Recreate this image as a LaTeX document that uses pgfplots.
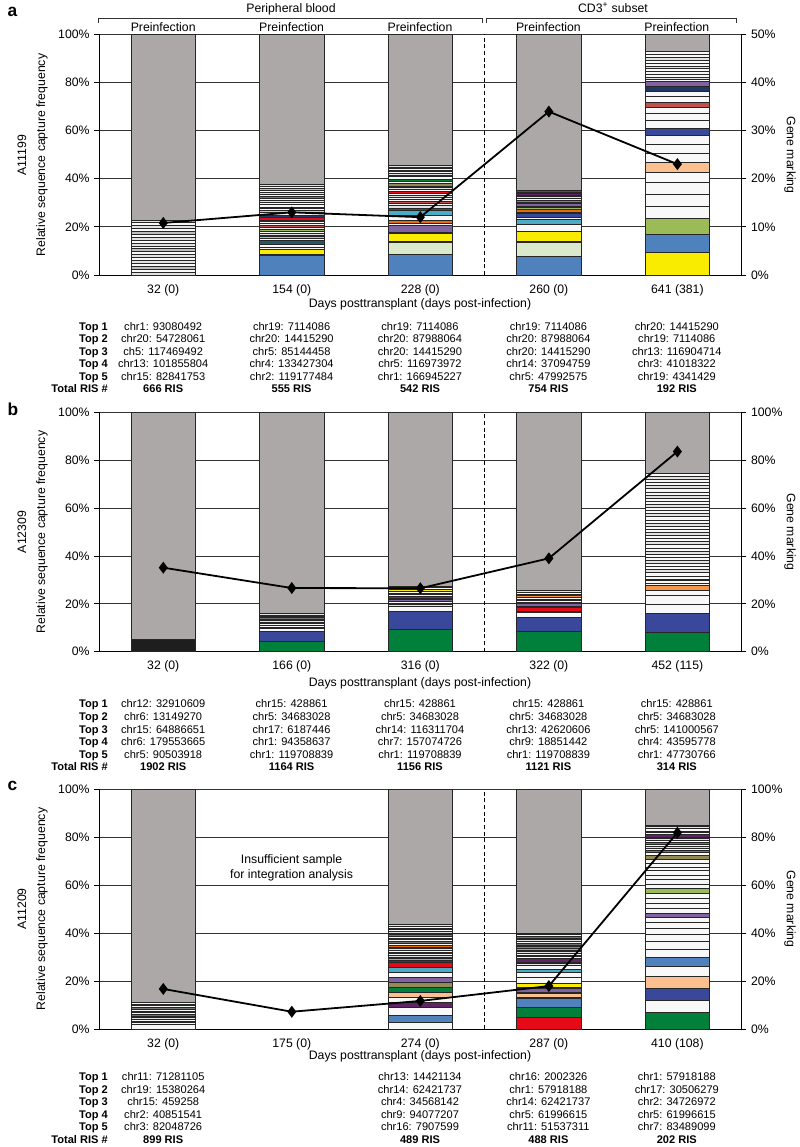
\documentclass[border=0pt]{standalone}
\usepackage{pgfplots}
\pgfplotsset{compat=1.18}
\usepackage{fontspec}
\setmainfont{Liberation Sans}
\newcommand\fontTick{\fontsize{9.2}{10.5}\selectfont}
\newcommand\fontTab{\fontsize{8.3}{9.5}\selectfont}

\definecolor{cgray}{RGB}{172,168,168}
\definecolor{cblue}{RGB}{79,129,189}
\definecolor{cyel}{RGB}{250,236,0}
\definecolor{clgreen}{RGB}{218,232,204}
\definecolor{cpurp}{RGB}{128,100,162}
\definecolor{corange}{RGB}{228,108,10}
\definecolor{clorange}{RGB}{247,150,70}
\definecolor{clblue}{RGB}{75,172,198}
\definecolor{cteal}{RGB}{33,89,104}
\definecolor{cred}{RGB}{230,10,25}
\definecolor{cpink}{RGB}{192,80,77}
\definecolor{colive}{RGB}{155,187,89}
\definecolor{ctan}{RGB}{148,138,84}
\definecolor{cgreen}{RGB}{0,128,58}
\definecolor{cnavy}{RGB}{31,56,100}
\definecolor{cdblue}{RGB}{58,72,155}
\definecolor{cpeach}{RGB}{250,192,144}
\definecolor{cdpurp}{RGB}{96,37,100}
\definecolor{cblack}{RGB}{30,30,30}
\definecolor{cw}{RGB}{248,248,248}
\definecolor{cs}{RGB}{226,226,226}
\definecolor{cm}{RGB}{190,190,190}
\definecolor{cdk}{RGB}{115,115,115}

% stacked bar: segments given as top/colour, from the top down
\newcommand\stk[2]{\foreach \tp/\cl in {#2}{\edef\tmp{\noexpand\addplot[fill=\cl, draw=black!85, line width=0.4pt] coordinates {(#1,\tp)};}\tmp}}

\pgfplotsset{
  baseax/.style={scale only axis, width=482pt, anchor=south west, xmin=-0.5, xmax=4.5, ymin=0,
    axis line style={black, line width=0.7pt}, tick align=outside, major tick length=3.5pt,
    tick label style={font=\fontTick}, /pgf/number format/assume math mode=true},
  barax/.style={baseax, ymax=100, axis x line*=bottom, axis y line*=left,
    ybar, bar width=0.5, bar shift=0pt,
    xtick={0,...,4}, xtick style={draw=none}, ytick={0,20,...,100},
    yticklabels={0\%,20\%,40\%,60\%,80\%,100\%}, ytick style={black, line width=0.6pt},
    ymajorgrids, major grid style={black!80, line width=0.6pt}},
  lineax/.style={baseax, axis y line*=right, axis x line=none, ytick style={black, line width=0.6pt}},
  gm/.style={black, line width=1.35pt, mark=diamond*, mark size=3.4pt, mark options={solid, fill=black}},
  dsh/.style={black, line width=0.6pt, dash pattern=on 3pt off 2pt},
}

\newcommand\trow[7]{%
  \node[font=\fontTab\bfseries, anchor=base east] at (112.5,#1) {#2};
  \node[font=\fontTab, anchor=base] at (163.2,#1) {#3};
  \node[font=\fontTab, anchor=base] at (291.6,#1) {#4};
  \node[font=\fontTab, anchor=base] at (420,#1) {#5};
  \node[font=\fontTab, anchor=base] at (548.4,#1) {#6};
  \node[font=\fontTab, anchor=base] at (676.8,#1) {#7};}

\begin{document}
\begin{tikzpicture}
\path[use as bounding box] (0,0) rectangle (600pt,-860.25pt);

%================ panel a
\begin{axis}[barax, at={(74.25pt,-206.25pt)}, height=180.75pt,
  xticklabels={32 (0),154 (0),228 (0),260 (0),641 (381)}]
\stk{0}{100/cgray, 22.9/cs, 21.7/cw, 20.5/cs, 19.3/cw, 18.1/cm, 16.9/cw, 15.7/cs, 14.5/cw, 13.3/cs, 12.1/cw, 10.9/cm, 9.7/cw, 8.5/cs, 7.3/cw, 6.1/cs, 4.9/cw, 3.7/cm, 2.5/cw, 1.3/cs}
\stk{1}{100/cgray, 37.6/cs, 36.8/cw, 36/cm, 35.2/cw, 34.4/cs, 33.6/cw, 32.8/cdk, 31.9/cw, 31/cs, 30.1/cw, 29.2/cw, 28.3/cs, 27.5/cw, 27/cpeach, 25.9/cw, 24.9/cnavy, 23.9/cred, 22.7/cw, 22.1/cw, 21.3/cw, 20.7/cpink, 19.8/cw, 19.1/colive, 18/cw, 17.3/cs, 16.6/cw, 16/cm, 15.2/cw, 14.5/cteal, 12.9/cw, 11.5/cw, 10.7/cyel, 8.7/cw, 8.2/cblue}
\stk{2}{100/cgray, 45.6/cs, 44.9/cdpurp, 44.3/cw, 43.6/colive, 42.9/cw, 42.2/cs, 41.5/cw, 40.8/cw, 39.9/cgreen, 38.8/cw, 38/ctan, 37/cw, 36.2/cs, 35.5/cw, 34.9/cred, 33.9/cw, 33/cs, 32.2/cw, 31.5/cw, 30.8/cpink, 29.7/cw, 28.9/cs, 27.9/cteal, 26.7/clblue, 24.9/cw, 22.8/corange, 21.4/cw, 20.7/cpurp, 17.7/cw, 17.3/cyel, 14.1/cw, 13.4/clgreen, 8.6/cblue}
\stk{3}{100/cgray, 35.2/cgreen, 34.3/cw, 33.8/cdpurp, 33.1/cw, 32.5/cs, 31.9/cw, 31.2/ctan, 30.2/cw, 29.6/cpurp, 28.6/cw, 28.1/colive, 27.1/corange, 25.9/cw, 25.6/cdblue, 23.8/cw, 23.2/clblue, 21/cw, 18/cyel, 13.8/cw, 13.6/clgreen, 7.6/cblue}
\stk{4}{100/cgray, 92.8/cw, 91.6/cw, 90.4/cs, 89.2/cw, 88/cw, 86.8/cs, 85.6/cw, 84.4/cw, 83.2/cw, 82/cs, 81.2/cw, 80.3/cpurp, 78.3/cnavy, 76.2/cw, 74.1/cw, 71.7/cpink, 69.7/cw, 67.2/cw, 64.1/cw, 60.9/cdblue, 57.9/cw, 54.4/cw, 50.6/cw, 46.7/cpeach, 42.8/cw, 38.4/cw, 33.7/cw, 28.7/cw, 23.5/colive, 16.9/cblue, 9.4/cyel}
\end{axis}
\begin{axis}[lineax, at={(74.25pt,-206.25pt)}, height=180.75pt, ymax=50,
  ytick={0,10,...,50}, yticklabels={0\%,10\%,20\%,30\%,40\%,50\%}]
\addplot[dsh] coordinates {(2.5,0) (2.5,50)};
\addplot[gm] coordinates {(0,10.8) (1,13) (2,12) (3,33.9) (4,23)};
\end{axis}

%================ panel b
\begin{axis}[barax, at={(74.25pt,-488.775pt)}, height=179.55pt,
  xticklabels={32 (0),166 (0),316 (0),322 (0),452 (115)}]
\stk{0}{100/cgray, 5.2/cblack}
\stk{1}{100/cgray, 16/cs, 15.3/cdk, 14.8/cs, 14.2/cdk, 13.7/cw, 13.1/cs, 12.5/cred, 11.8/cw, 11.2/cw, 10.4/cyel, 9.6/cw, 8.5/cdblue, 4.5/cgreen}
\stk{2}{100/cgray, 27.4/cs, 26.8/cw, 26/cyel, 25.2/cw, 24.5/cpink, 23.8/cw, 23.3/cred, 22.4/cw, 21.9/cpurp, 21/cw, 20.4/cw, 19.9/clgreen, 18.8/cw, 17/cdblue, 9.5/cgreen}
\stk{3}{100/cgray, 25.6/cs, 24.8/cw, 24.2/cs, 23.7/clorange, 22.7/cw, 22.1/cs, 21.5/cw, 20.8/cs, 20.2/cpurp, 19.1/cw, 18.4/cred, 17.1/cw, 16.4/cw, 14.5/cdblue, 8.5/cgreen}
\stk{4}{100/cgray, 74.6/cw, 73.3/cs, 72/cw, 70.7/cw, 69.4/cs, 68.1/cw, 66.8/cw, 65.5/cs, 64.2/cw, 62.9/cw, 61.6/cs, 60.3/cw, 59/cw, 57.7/cs, 56.4/cw, 55.1/cw, 53.8/cs, 52.5/cw, 51.2/cw, 49.9/cs, 48.6/cw, 47.3/cw, 46/cs, 44.7/cw, 43.4/cw, 42.1/cs, 40.8/cw, 39.5/cw, 38.2/cs, 36.9/cw, 35.6/cw, 34.3/cs, 33/cw, 31.7/cw, 30.4/cs, 29.9/cw, 28.7/cw, 27.6/clorange, 25.8/cw, 23.7/cw, 19.8/cw, 16/cdblue, 8.1/cgreen}
\end{axis}
\begin{axis}[lineax, at={(74.25pt,-488.775pt)}, height=179.55pt, ymax=100,
  ytick={0,20,...,100}, yticklabels={0\%,20\%,40\%,60\%,80\%,100\%}]
\addplot[dsh] coordinates {(2.5,0) (2.5,100)};
\addplot[gm] coordinates {(0,35.1) (1,26.6) (2,26.5) (3,39) (4,83.6)};
\end{axis}

%================ panel c
\begin{axis}[barax, at={(74.25pt,-771.75pt)}, height=180pt,
  xticklabels={32 (0),175 (0),274 (0),287 (0),410 (108)}]
\stk{0}{100/cgray, 11.1/cw, 10.4/cs, 9.7/cw, 9/cdk, 8.3/cw, 7.6/cs, 6.9/cw, 6.2/cdk, 5.5/cw, 4.8/cs, 4.1/cw, 3.4/cs, 2.7/cw, 2/cw}
\stk{2}{100/cgray, 43.5/cs, 42.8/cw, 42.1/cdk, 41.4/cw, 40.7/cs, 40/cw, 39.3/cdk, 38.6/cw, 37.9/cs, 37.2/cw, 36.5/cdk, 35.8/cw, 35.1/cs, 34.8/corange, 34.2/cw, 33.5/cs, 32.8/cw, 32.1/cdk, 31.4/cw, 30.7/cs, 30/cw, 29.6/colive, 28.8/cdpurp, 27.8/cred, 25.7/clblue, 23.6/cw, 21.4/cpurp, 19.4/ctan, 17.4/cgreen, 15.3/cpeach, 13.2/cw, 11/cdpurp, 8.9/cw, 5.8/cblue, 2.8/cw}
\stk{3}{100/cgray, 40/cs, 39.3/cw, 38.6/cdk, 37.9/cw, 37.2/cs, 36.5/cw, 35.8/cdk, 35.1/cw, 34.4/corange, 33.7/colive, 33/cw, 32.3/cs, 31.6/cw, 30.9/cdk, 30.2/cw, 29.4/cdpurp, 28/cw, 27.2/cs, 26.4/cw, 25.1/clblue, 23.5/cw, 21.5/cw, 19/cyel, 17.4/cw, 16.9/cpurp, 15.3/cw, 14.9/cpeach, 13.2/cw, 12.9/cblue, 9.2/cgreen, 5/cred}
\stk{4}{100/cgray, 85.1/cw, 84.3/cs, 83.5/cw, 82.6/cyel, 81.8/cw, 81.2/cdpurp, 80.1/cw, 79.3/cs, 78.5/cw, 77.7/cdk, 76.9/cw, 76.1/cs, 75.3/cw, 74.5/cdk, 73.7/cw, 72.5/ctan, 70.8/cw, 69.2/cw, 67.6/cw, 66/cw, 64.2/cw, 62.4/cw, 60.5/cw, 58.5/colive, 56.5/cw, 54.6/cw, 52.5/cw, 50.3/cw, 48.2/cpurp, 46.5/cw, 44.4/cw, 42/cw, 39.4/cw, 36.6/cw, 33.3/cw, 30.1/cblue, 26.3/cw, 21.8/cpeach, 16.9/cdblue, 11.8/cw, 6.9/cgreen}
\end{axis}
\begin{axis}[lineax, at={(74.25pt,-771.75pt)}, height=180pt, ymax=100,
  ytick={0,20,...,100}, yticklabels={0\%,20\%,40\%,60\%,80\%,100\%}]
\addplot[dsh] coordinates {(2.5,0) (2.5,100)};
\addplot[gm] coordinates {(0,16.7) (1,7.2) (2,11.7) (3,17.9) (4,81.8)};
\end{axis}

%================ texts (pixel grid)
\begin{scope}[x=0.75pt, y=-0.75pt]
\node[font=\fontsize{13}{14}\selectfont\bfseries, anchor=base west] at (3,16) {a};
\node[font=\fontsize{13}{14}\selectfont\bfseries, anchor=base west] at (3,415.5) {b};
\node[font=\fontsize{13}{14}\selectfont\bfseries, anchor=base west] at (3,790) {c};

\node[font=\fontTick, anchor=base] at (291,12.5) {Peripheral blood};
\node[font=\fontTick, anchor=base] at (613,12.5) {CD3\textsuperscript{+} subset};
\draw[black!80, line width=0.6pt] (98,23)--(98,18)--(482,18)--(482,23);
\draw[black!80, line width=0.6pt] (486,23)--(486,18)--(736,18)--(736,23);
\foreach \xx in {163.2,291.6,420,548.4,676.8} {\node[font=\fontTick, anchor=base] at (\xx,31) {Preinfection};}

\foreach \yy/\nm in {155/A11199, 532/A12309, 909/A11209} {
  \node[font=\fontTick, rotate=90] at (22,\yy) {\nm};
  \node[font=\fontTick, rotate=90] at (42,\yy) {Relative sequence capture frequency};
  \node[font=\fontTick, rotate=-90] at (790,\yy) {Gene marking};}
\foreach \yy in {307.3, 686, 1059.3} {\node[font=\fontTick, anchor=base] at (420,\yy) {Days posttransplant (days post-infection)};}

\node[font=\fontTick, anchor=base] at (291.6,863) {Insufficient sample};
\node[font=\fontTick, anchor=base] at (291.6,878) {for integration analysis};

% table a
\trow{330.2}{Top 1}{chr1: 93080492}{chr19: 7114086}{chr19: 7114086}{chr19: 7114086}{chr20: 14415290}
\trow{342.6}{Top 2}{chr20: 54728061}{chr20: 14415290}{chr20: 87988064}{chr20: 87988064}{chr19: 7114086}
\trow{355.2}{Top 3}{ch5: 117469492}{chr5: 85144458}{chr20: 14415290}{chr20: 14415290}{chr13: 116904714}
\trow{367.6}{Top 4}{chr13: 101855804}{chr4: 133427304}{chr5: 116973972}{chr14: 37094759}{chr3: 41018322}
\trow{380.2}{Top 5}{chr15: 82841753}{chr2: 119177484}{chr1: 166945227}{chr5: 47992575}{chr19: 4341429}
\trow{392.4}{Total RIS \#}{\bfseries 666 RIS}{\bfseries 555 RIS}{\bfseries 542 RIS}{\bfseries 754 RIS}{\bfseries 192 RIS}
% table b
\trow{707.3}{Top 1}{chr12: 32910609}{chr15: 428861}{chr15: 428861}{chr15: 428861}{chr15: 428861}
\trow{720.7}{Top 2}{chr6: 13149270}{chr5: 34683028}{chr5: 34683028}{chr5: 34683028}{chr5: 34683028}
\trow{733}{Top 3}{chr15: 64886651}{chr17: 6187446}{chr14: 116311704}{chr13: 42620606}{chr5: 141000567}
\trow{745.7}{Top 4}{chr6: 179553665}{chr1: 94358637}{chr7: 157074726}{chr9: 18851442}{chr4: 43595778}
\trow{758.3}{Top 5}{chr5: 90503918}{chr1: 119708839}{chr1: 119708839}{chr1: 119708839}{chr1: 47730766}
\trow{770.7}{Total RIS \#}{\bfseries 1902 RIS}{\bfseries 1164 RIS}{\bfseries 1156 RIS}{\bfseries 1121 RIS}{\bfseries 314 RIS}
% table c
\trow{1080.7}{Top 1}{chr11: 71281105}{}{chr13: 14421134}{chr16: 2002326}{chr1: 57918188}
\trow{1093.2}{Top 2}{chr19: 15380264}{}{chr14: 62421737}{chr1: 57918188}{chr17: 30506279}
\trow{1105.6}{Top 3}{chr15: 459258}{}{chr4: 34568142}{chr14: 62421737}{chr2: 34726972}
\trow{1118.1}{Top 4}{chr2: 40851541}{}{chr9: 94077207}{chr5: 61996615}{chr5: 61996615}
\trow{1130.5}{Top 5}{chr3: 82048726}{}{chr16: 7907599}{chr11: 51537311}{chr7: 83489099}
\trow{1143}{Total RIS \#}{\bfseries 899 RIS}{}{\bfseries 489 RIS}{\bfseries 488 RIS}{\bfseries 202 RIS}
\end{scope}
\end{tikzpicture}
\end{document}
